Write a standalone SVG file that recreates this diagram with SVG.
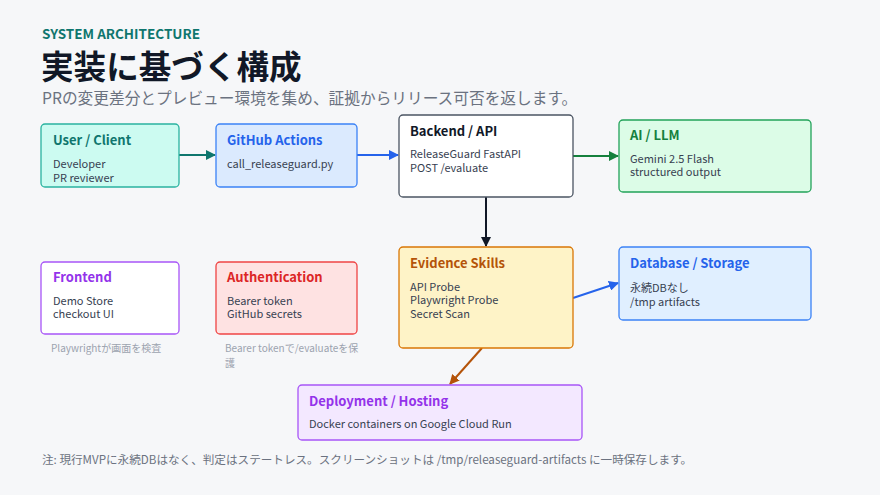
<svg xmlns="http://www.w3.org/2000/svg" width="880" height="495" viewBox="0 0 880 495">
<style>
text{font-family:"Noto Sans CJK JP","Noto Sans",sans-serif}
.t{font-size:13px;font-weight:700}
.b{font-size:11px;fill:#374151}
.cap{font-size:10px;fill:#9ca3af}
.box{stroke-width:1.3}
.c{fill:none;stroke-width:2}
</style>
<defs>
<marker id="mTeal" viewBox="0 0 10 10" refX="9" refY="5" markerWidth="5" markerHeight="5" orient="auto"><path d="M0,0L10,5L0,10z" fill="#0f766e"/></marker>
<marker id="mBlue" viewBox="0 0 10 10" refX="9" refY="5" markerWidth="5" markerHeight="5" orient="auto"><path d="M0,0L10,5L0,10z" fill="#2563eb"/></marker>
<marker id="mGreen" viewBox="0 0 10 10" refX="9" refY="5" markerWidth="5" markerHeight="5" orient="auto"><path d="M0,0L10,5L0,10z" fill="#15803d"/></marker>
<marker id="mDark" viewBox="0 0 10 10" refX="9" refY="5" markerWidth="5" markerHeight="5" orient="auto"><path d="M0,0L10,5L0,10z" fill="#111827"/></marker>
<marker id="mBrown" viewBox="0 0 10 10" refX="9" refY="5" markerWidth="5" markerHeight="5" orient="auto"><path d="M0,0L10,5L0,10z" fill="#b45309"/></marker>
</defs>
<rect width="880" height="495" fill="#f6f7f9"/>
<g id="header">
<text x="42" y="39" style="font-size:13.5px;font-weight:700;fill:#0f766e">SYSTEM ARCHITECTURE</text>
<text x="41" y="79" style="font-size:32.6px;font-weight:700;fill:#111827">実装に基づく構成</text>
<text x="42" y="104" style="font-size:15.7px;fill:#6b7280">PRの変更差分とプレビュー環境を集め、証拠からリリース可否を返します。</text>
</g>
<g id="connectors">
<line class="c" x1="179" y1="155" x2="215" y2="155" stroke="#0f766e" marker-end="url(#mTeal)"/>
<line class="c" x1="357" y1="155" x2="398" y2="155" stroke="#2563eb" marker-end="url(#mBlue)"/>
<line class="c" x1="573" y1="156" x2="618" y2="156" stroke="#15803d" marker-end="url(#mGreen)"/>
<line class="c" x1="486" y1="197" x2="486" y2="246" stroke="#111827" marker-end="url(#mDark)"/>
<line class="c" x1="573" y1="298" x2="618" y2="283" stroke="#2563eb" marker-end="url(#mBlue)"/>
<line class="c" x1="482" y1="348" x2="450" y2="384" stroke="#b45309" marker-end="url(#mBrown)"/>
</g>
<g id="user">
<rect class="box" x="41" y="124" width="138" height="63" rx="4" fill="#ccfbf1" stroke="#2ab3a0"/>
<text class="t" x="53" y="145" fill="#0f766e">User / Client</text>
<text class="b" x="53" y="168">Developer</text>
<text class="b" x="53" y="182">PR reviewer</text>
</g>
<g id="github">
<rect class="box" x="216" y="124" width="141" height="63" rx="4" fill="#dbeafe" stroke="#3b82f6"/>
<text class="t" x="227" y="145" fill="#2563eb">GitHub Actions</text>
<text class="b" x="227" y="168">call_releaseguard.py</text>
</g>
<g id="backend">
<rect class="box" x="399" y="115" width="174" height="82" rx="4" fill="#ffffff" stroke="#4b5563"/>
<text class="t" x="410" y="136" fill="#111827">Backend / API</text>
<text class="b" x="410" y="158">ReleaseGuard FastAPI</text>
<text class="b" x="410" y="171.5">POST /evaluate</text>
</g>
<g id="ai">
<rect class="box" x="619" y="120" width="192" height="72" rx="4" fill="#dcfce7" stroke="#22a35a"/>
<text class="t" x="630" y="140" fill="#15803d">AI / LLM</text>
<text class="b" x="630" y="162.5">Gemini 2.5 Flash</text>
<text class="b" x="630" y="176">structured output</text>
</g>
<g id="frontend">
<rect class="box" x="41" y="262" width="138" height="72" rx="4" fill="#ffffff" stroke="#a855f7"/>
<text class="t" x="53" y="282" fill="#9333ea">Frontend</text>
<text class="b" x="53" y="304.5">Demo Store</text>
<text class="b" x="53" y="318">checkout UI</text>
<text class="cap" x="51" y="352">Playwrightが画面を検査</text>
</g>
<g id="auth">
<rect class="box" x="216" y="262" width="141" height="72" rx="4" fill="#fee2e2" stroke="#ef4444"/>
<text class="t" x="227" y="282" fill="#dc2626">Authentication</text>
<text class="b" x="227" y="304.5">Bearer token</text>
<text class="b" x="227" y="318">GitHub secrets</text>
<text class="cap" x="225" y="352">Bearer tokenで/evaluateを保</text>
<text class="cap" x="225" y="367">護</text>
</g>
<g id="evidence">
<rect class="box" x="399" y="247" width="174" height="101" rx="4" fill="#fef3c7" stroke="#d97706"/>
<text class="t" x="410" y="268" fill="#b45309">Evidence Skills</text>
<text class="b" x="410" y="290.5">API Probe</text>
<text class="b" x="410" y="304">Playwright Probe</text>
<text class="b" x="410" y="317.5">Secret Scan</text>
</g>
<g id="database">
<rect class="box" x="619" y="247" width="192" height="73" rx="4" fill="#e0efff" stroke="#3b82f6"/>
<text class="t" x="630" y="268" fill="#2563eb">Database / Storage</text>
<text class="b" x="630" y="292">永続DBなし</text>
<text class="b" x="630" y="306">/tmp artifacts</text>
</g>
<g id="deployment">
<rect class="box" x="298" y="385" width="284" height="55" rx="4" fill="#f3e8ff" stroke="#a855f7"/>
<text class="t" x="309" y="406" fill="#9333ea">Deployment / Hosting</text>
<text class="b" x="309" y="428">Docker containers on Google Cloud Run</text>
</g>
<g id="footer">
<text x="42" y="464" style="font-size:11.6px;fill:#6b7280">注: 現行MVPに永続DBはなく、判定はステートレス。スクリーンショットは /tmp/releaseguard-artifacts に一時保存します。</text>
</g>
</svg>
